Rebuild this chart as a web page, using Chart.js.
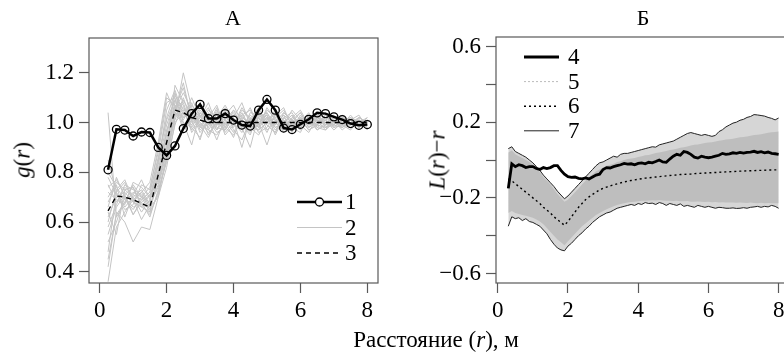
<!DOCTYPE html>
<html>
<head>
<meta charset="utf-8">
<script src="https://cdn.jsdelivr.net/npm/chart.js@4.4.1/dist/chart.umd.min.js"></script>
<style>
  html, body { margin: 0; padding: 0; background: #fff; overflow: hidden; }
  #wrap { position: relative; width: 784px; height: 357px; overflow: hidden; font-family: 'Liberation Serif', 'Times New Roman', serif; }
  canvas { position: absolute; top: 0; }
  #chart-a { left: 0; }
  #chart-b { left: 392px; }
  .lbl { position: absolute; font-size: 23px; color: #000; white-space: nowrap; line-height: 1; }
  .ttl { font-size: 22px; transform: translateX(-50%); }
  .ytl { transform: translate(-50%, -50%) rotate(-90deg); }
</style>
</head>
<body>
<div id="wrap">
  <canvas id="chart-a" width="392" height="357"></canvas>
  <canvas id="chart-b" width="400" height="357"></canvas>
  <div class="lbl ttl" style="left:233px; top:7px;">А</div>
  <div class="lbl ttl" style="left:643px; top:7px;">Б</div>
  <div class="lbl ytl" style="left:22px; top:160px;"><i>g</i>(<i>r</i>)</div>
  <div class="lbl ytl" style="left:437px; top:160px;"><i>L</i>(<i>r</i>)&minus;<i>r</i></div>
  <div class="lbl" style="left:436px; top:328px; transform: translateX(-50%);">Расстояние (<i>r</i>), м</div>
</div>
<script>
// ---- Panel A: g(r) ----
const rA = [0.25, 0.5, 0.75, 1.0, 1.25, 1.5, 1.75, 2.0, 2.25, 2.5, 2.75, 3.0, 3.25, 3.5, 3.75, 4.0,
            4.25, 4.5, 4.75, 5.0, 5.25, 5.5, 5.75, 6.0, 6.25, 6.5, 6.75, 7.0, 7.25, 7.5, 7.75, 8.0];

// 1 - observed g(r)
const gObs = [0.81, 0.973, 0.97, 0.946, 0.962, 0.96, 0.90, 0.868, 0.906, 0.976, 1.036, 1.073, 1.016, 1.016, 1.036, 1.01,
              0.99, 0.986, 1.05, 1.093, 1.05, 0.978, 0.972, 0.993, 1.013, 1.039, 1.036, 1.023, 1.012, 0.996, 0.989, 0.992];

// 3 - expected g(r)
const gExp = [0.645, 0.705, 0.70, 0.69, 0.675, 0.66, 0.79, 0.92, 1.05, 1.04, 1.02, 1.01, 1.0, 1.0, 1.0, 1.0,
              1.0, 1.0, 1.0, 1.0, 1.0, 1.0, 1.0, 1.0, 1.0, 1.0, 1.0, 1.0, 1.0, 1.0, 1.0, 1.0];

// 2 - simulations
const gSim = [
  [0.62,0.70,0.72,0.68,0.66,0.64,0.78,0.95,1.08,1.06,1.02,0.98,1.03,0.97,1.01,1.05,0.99,0.96,1.02,1.04,0.98,1.00,1.03,0.97,1.01,0.99,1.02,1.00,0.98,1.01,0.99,1.00],
  [0.75,0.68,0.74,0.71,0.69,0.72,0.85,1.02,1.12,1.00,0.91,1.04,0.99,1.06,0.96,1.00,1.03,0.98,0.95,1.01,1.04,0.99,0.97,1.02,1.00,1.03,0.98,0.99,1.02,0.98,1.00,0.99],
  [0.48,0.72,0.66,0.70,0.73,0.67,0.74,0.88,1.15,1.08,0.98,0.94,1.02,1.00,1.05,0.97,0.93,1.01,1.06,0.99,0.96,1.04,1.01,0.98,1.03,0.97,1.00,1.02,0.99,1.01,1.03,0.98],
  [0.80,0.74,0.69,0.65,0.70,0.68,0.80,0.97,1.05,1.12,1.05,1.00,0.96,0.99,1.03,1.07,1.00,0.97,0.99,1.05,1.02,0.96,1.00,1.04,0.98,1.00,1.01,0.97,1.00,1.02,0.98,1.01],
  [0.55,0.66,0.71,0.74,0.67,0.63,0.72,0.85,1.02,1.20,1.06,0.97,1.00,1.04,0.95,0.99,1.05,1.02,0.96,0.98,1.03,1.06,0.98,0.99,1.02,1.04,0.99,1.01,0.97,1.00,1.02,1.00],
  [1.04,0.62,0.68,0.72,0.70,0.74,0.88,1.08,1.10,0.98,1.03,1.08,0.97,0.95,1.00,1.04,0.98,1.03,1.00,0.91,1.01,0.99,1.05,1.01,0.97,0.99,1.03,1.00,1.01,0.98,1.00,1.02],
  [0.66,0.78,0.70,0.63,0.68,0.71,0.76,0.90,1.04,1.02,1.10,1.02,1.06,0.98,0.97,1.02,1.08,0.99,1.01,1.03,0.95,1.02,0.99,1.00,1.04,0.98,0.97,1.02,1.00,0.99,1.01,0.99],
  [0.36,0.58,0.64,0.69,0.72,0.66,0.70,0.82,1.00,1.04,0.99,1.05,1.01,0.93,1.02,1.00,0.96,1.04,1.03,1.00,0.99,1.03,0.96,1.02,1.00,1.01,1.04,0.98,0.99,1.03,0.99,1.01],
  [0.70,0.76,0.73,0.70,0.64,0.69,0.83,0.99,1.09,1.07,0.96,1.01,1.05,1.02,0.98,0.95,1.01,1.06,0.98,1.02,1.00,0.97,1.02,1.05,0.99,1.02,1.00,0.99,1.03,1.00,0.98,1.00],
  [0.58,0.67,0.75,0.73,0.71,0.65,0.79,0.93,1.06,1.14,1.02,0.99,0.94,1.01,1.06,1.00,0.99,0.95,1.04,1.01,1.03,1.00,0.98,0.96,1.03,1.00,1.02,1.01,0.98,1.00,1.01,0.97],
  [0.42,0.64,0.60,0.52,0.58,0.57,0.70,0.86,1.03,1.05,1.04,0.96,1.00,1.03,1.01,0.96,1.02,1.00,1.05,0.97,1.00,1.04,1.01,0.99,0.96,1.02,1.01,1.03,1.00,0.99,1.02,1.00],
  [0.72,0.69,0.67,0.76,0.74,0.70,0.84,1.05,1.13,1.03,1.07,1.03,0.98,1.05,0.99,1.02,0.97,1.01,0.98,1.06,1.01,0.98,1.02,1.00,1.01,0.97,0.99,1.00,1.02,1.01,0.99,1.01],
  [0.60,0.73,0.77,0.69,0.61,0.67,0.75,0.89,1.01,1.10,1.00,1.06,1.03,0.97,1.04,0.98,1.04,0.98,0.97,1.00,1.05,1.01,0.97,1.03,0.98,1.01,1.00,0.98,1.01,1.02,1.00,0.98],
  [0.78,0.71,0.65,0.67,0.75,0.73,0.90,1.10,1.07,0.97,1.01,0.93,1.04,1.00,0.97,1.03,1.01,0.97,1.02,0.99,0.96,1.02,1.04,0.98,1.02,0.99,0.98,1.01,1.00,0.98,1.02,1.00],
  [0.52,0.60,0.70,0.66,0.68,0.62,0.73,0.84,0.99,1.09,1.03,1.00,0.97,1.02,1.07,1.01,0.90,1.02,1.00,1.03,0.98,1.00,1.03,0.99,1.00,1.04,0.98,1.00,0.99,1.01,0.98,1.02],
  [0.68,0.75,0.62,0.71,0.77,0.69,0.81,0.96,1.11,1.05,0.97,1.02,1.08,0.99,1.00,0.94,1.03,1.05,0.99,1.02,1.01,0.97,1.00,1.02,0.97,0.99,1.02,1.01,0.99,0.97,1.01,1.00],
  [0.64,0.55,0.73,0.74,0.66,0.71,0.77,0.91,1.07,1.01,1.08,0.98,0.99,1.04,1.02,1.01,0.98,0.90,1.03,1.00,1.02,1.05,0.99,1.01,1.03,0.98,1.01,0.99,1.02,1.00,0.99,1.01],
  [0.85,0.72,0.76,0.68,0.72,0.76,0.92,1.12,1.04,1.00,0.98,1.04,1.01,0.96,0.98,1.05,1.02,1.00,0.97,1.04,0.99,1.03,1.00,0.97,1.01,1.02,0.99,1.03,1.00,1.01,1.00,0.99],
  [0.45,0.63,0.68,0.75,0.70,0.64,0.71,0.87,1.05,1.16,1.01,1.03,0.95,1.01,1.03,0.99,1.06,1.01,1.02,0.96,1.03,0.98,1.01,1.04,0.99,1.00,1.03,0.99,0.98,1.02,1.00,0.99],
  [0.74,0.77,0.71,0.63,0.69,0.72,0.86,1.01,1.09,1.02,1.04,0.99,1.02,1.07,0.98,1.03,1.00,0.99,1.04,1.02,0.97,1.01,0.98,1.00,1.02,1.01,0.97,1.00,1.03,0.99,1.01,1.00]
];

const ticksAx = [0, 2, 4, 6, 8];
const ticksAy = [0.4, 0.6, 0.8, 1.0, 1.2];

// ---- Panel B: L(r)-r ----
const rB = [0.3,0.4,0.5,0.6,0.7,0.8,0.9,1.0,1.1,1.2,
            1.3,1.4,1.5,1.6,1.7,1.8,1.9,2.0,2.1,2.2,
            2.3,2.4,2.5,2.6,2.7,2.8,2.9,3.0,3.1,3.2,
            3.3,3.4,3.5,3.6,3.7,3.8,3.9,4.0,4.1,4.2,
            4.3,4.4,4.5,4.6,4.7,4.8,4.9,5.0,5.1,5.2,
            5.3,5.4,5.5,5.6,5.7,5.8,5.9,6.0,6.1,6.2,
            6.3,6.4,6.5,6.6,6.7,6.8,6.9,7.0,7.1,7.2,
            7.3,7.4,7.5,7.6,7.7,7.8,7.9,8.0];

// 4 - observed
const lObs = [-0.15,-0.02,-0.035,-0.025,-0.03,-0.04,-0.035,-0.035,-0.045,-0.05,
              -0.04,-0.045,-0.04,-0.03,-0.03,-0.055,-0.075,-0.088,-0.092,-0.09,
              -0.097,-0.1,-0.095,-0.1,-0.09,-0.08,-0.075,-0.05,-0.04,-0.042,
              -0.035,-0.03,-0.025,-0.018,-0.022,-0.02,-0.025,-0.018,-0.015,-0.02,
              -0.012,-0.015,-0.008,0.0,-0.01,-0.012,0.005,0.02,0.03,0.025,
              0.045,0.04,0.03,0.015,0.01,0.02,0.015,0.012,0.015,0.02,
              0.025,0.035,0.03,0.032,0.038,0.035,0.04,0.036,0.04,0.042,
              0.046,0.04,0.044,0.038,0.042,0.035,0.033,0.03];

// 5 - simulations (dense band edges)
const lSimHi = [0.04,0.05,0.03,0.02,0.01,0.0,-0.01,-0.025,-0.045,-0.065,
                -0.09,-0.11,-0.13,-0.155,-0.18,-0.2,-0.22,-0.21,-0.19,-0.17,
                -0.15,-0.13,-0.11,-0.09,-0.075,-0.06,-0.05,-0.04,-0.03,-0.025,
                -0.02,-0.01,-0.006,0.0,0.005,0.008,0.01,0.016,0.02,0.025,
                0.027,0.032,0.037,0.04,0.043,0.048,0.053,0.056,0.06,0.065,
                0.067,0.072,0.077,0.08,0.082,0.086,0.09,0.092,0.094,0.098,
                0.102,0.104,0.108,0.11,0.112,0.116,0.12,0.122,0.124,0.128,
                0.132,0.134,0.136,0.14,0.144,0.146,0.148,0.15];
const lSimLo = [-0.28,-0.27,-0.28,-0.285,-0.29,-0.295,-0.3,-0.305,-0.315,-0.325,
                -0.34,-0.36,-0.38,-0.4,-0.42,-0.435,-0.45,-0.43,-0.41,-0.39,
                -0.37,-0.35,-0.335,-0.32,-0.305,-0.29,-0.28,-0.27,-0.26,-0.252,
                -0.245,-0.238,-0.232,-0.228,-0.224,-0.222,-0.22,-0.218,-0.216,-0.215,
                -0.214,-0.213,-0.214,-0.212,-0.214,-0.216,-0.215,-0.217,-0.216,-0.218,
                -0.218,-0.217,-0.22,-0.221,-0.219,-0.221,-0.222,-0.221,-0.223,-0.222,
                -0.224,-0.223,-0.225,-0.224,-0.225,-0.226,-0.224,-0.226,-0.227,-0.225,
                -0.227,-0.228,-0.226,-0.228,-0.227,-0.229,-0.228,-0.228];

// 6 - expected
const lExp = [-0.1,-0.11,-0.125,-0.14,-0.155,-0.17,-0.185,-0.2,-0.215,-0.23,
              -0.25,-0.265,-0.28,-0.3,-0.315,-0.33,-0.345,-0.325,-0.3,-0.275,
              -0.25,-0.23,-0.21,-0.195,-0.182,-0.17,-0.158,-0.15,-0.143,-0.137,
              -0.131,-0.126,-0.121,-0.116,-0.112,-0.108,-0.105,-0.102,-0.099,-0.096,
              -0.094,-0.092,-0.09,-0.088,-0.086,-0.084,-0.082,-0.08,-0.079,-0.077,
              -0.076,-0.075,-0.074,-0.072,-0.071,-0.07,-0.069,-0.068,-0.067,-0.066,
              -0.065,-0.064,-0.063,-0.062,-0.061,-0.06,-0.059,-0.058,-0.057,-0.057,
              -0.056,-0.055,-0.055,-0.054,-0.053,-0.053,-0.052,-0.052];

// 7 - envelope
const lEnvHi = [0.06,0.07,0.045,0.035,0.025,0.015,0.0,-0.015,-0.035,-0.055,
                -0.08,-0.1,-0.12,-0.14,-0.165,-0.185,-0.205,-0.19,-0.17,-0.15,
                -0.13,-0.11,-0.09,-0.07,-0.05,-0.03,-0.015,-0.01,0.0,0.01,
                0.02,0.015,0.03,0.035,0.035,0.04,0.045,0.05,0.055,0.06,
                0.065,0.07,0.068,0.08,0.085,0.09,0.095,0.1,0.11,0.12,
                0.13,0.14,0.145,0.14,0.135,0.13,0.135,0.13,0.125,0.13,
                0.15,0.16,0.175,0.185,0.195,0.2,0.21,0.215,0.225,0.23,
                0.24,0.238,0.235,0.232,0.225,0.22,0.212,0.222];
const lEnvLo = [-0.35,-0.3,-0.31,-0.305,-0.32,-0.31,-0.325,-0.33,-0.34,-0.35,
                -0.37,-0.39,-0.42,-0.445,-0.465,-0.475,-0.48,-0.455,-0.44,-0.42,
                -0.4,-0.385,-0.365,-0.35,-0.33,-0.315,-0.3,-0.29,-0.28,-0.275,
                -0.265,-0.255,-0.25,-0.245,-0.24,-0.235,-0.24,-0.23,-0.235,-0.225,
                -0.23,-0.228,-0.235,-0.225,-0.23,-0.24,-0.23,-0.235,-0.24,-0.232,
                -0.245,-0.24,-0.245,-0.25,-0.24,-0.245,-0.25,-0.245,-0.25,-0.255,
                -0.25,-0.252,-0.255,-0.255,-0.253,-0.256,-0.255,-0.252,-0.255,-0.25,
                -0.248,-0.245,-0.25,-0.245,-0.248,-0.24,-0.245,-0.255];

const ticksBx = [0, 2, 4, 6, 8];
const ticksBy = [-0.6, -0.4, -0.2, 0, 0.2, 0.4, 0.6];
const labelsBy = ['\u22120.6', '', '\u22120.2', '', '0.2', '', '0.6'];

const serif = "'Liberation Serif', 'Times New Roman', serif";
const axisGrey = '#595959';

const pts = (xs, ys) => xs.map((x, i) => ({ x: x, y: ys[i] }));

// box round the plot region, like R's box()
const framePlugin = {
  id: 'frame',
  afterDatasetsDraw(chart) {
    const { ctx, chartArea: a } = chart;
    ctx.save();
    ctx.strokeStyle = axisGrey;
    ctx.lineWidth = 1.2;
    ctx.strokeRect(a.left, a.top, a.right - a.left, a.bottom - a.top);
    ctx.restore();
  }
};

// R-style legend drawn inside the plot region
const rLegendPlugin = {
  id: 'rLegend',
  afterDraw(chart, args, opts) {
    if (!opts.items) return;
    const { ctx, chartArea: a } = chart;
    ctx.save();
    ctx.font = '23px ' + serif;
    ctx.textBaseline = 'middle';
    ctx.fillStyle = '#000';
    opts.items.forEach((it, i) => {
      const y = a.top + opts.y + i * opts.rowH;
      const x0 = a.left + opts.x;
      const x1 = x0 + opts.sampleW;
      ctx.beginPath();
      ctx.strokeStyle = it.color;
      ctx.lineWidth = it.width;
      ctx.setLineDash(it.dash || []);
      ctx.moveTo(x0, y);
      ctx.lineTo(x1, y);
      ctx.stroke();
      ctx.setLineDash([]);
      if (it.point) {
        ctx.beginPath();
        ctx.lineWidth = 1.3;
        ctx.fillStyle = '#fff';
        ctx.arc((x0 + x1) / 2, y, 4, 0, Math.PI * 2);
        ctx.fill();
        ctx.stroke();
        ctx.fillStyle = '#000';
      }
      ctx.fillText(it.label, x1 + opts.gap, y + 1);
    });
    ctx.restore();
  }
};

function axisX(min, max, ticks, height) {
  return {
    type: 'linear', min: min, max: max,
    afterBuildTicks: s => { s.ticks = ticks.map(v => ({ value: v })); },
    afterFit: s => { s.height = height; },
    ticks: { color: '#000', font: { family: serif, size: 23 }, padding: 4, autoSkip: false, maxRotation: 0,
             callback: v => String(v) },
    grid: { drawOnChartArea: false, drawTicks: true, tickLength: 10, tickColor: axisGrey, tickWidth: 1.2 },
    border: { display: false }
  };
}

function axisY(min, max, ticks, width, fmt) {
  return {
    type: 'linear', min: min, max: max,
    afterBuildTicks: s => { s.ticks = ticks.map(v => ({ value: v })); },
    afterFit: s => { s.width = width; },
    ticks: { color: '#000', font: { family: serif, size: 23 }, padding: 5, autoSkip: false, callback: fmt },
    grid: { drawOnChartArea: false, drawTicks: true, tickLength: 10, tickColor: axisGrey, tickWidth: 1.2 },
    border: { display: false }
  };
}

function initPanelA() {
  const simSets = gSim.map(s => ({
    data: pts(rA, s), borderColor: '#c4c4c4', borderWidth: 1, pointRadius: 0, fill: false
  }));
  new Chart(document.getElementById('chart-a'), {
    type: 'line',
    data: {
      datasets: [
        { data: pts(rA, gObs), borderColor: '#000', borderWidth: 2.5, pointRadius: 4, pointBorderWidth: 1.3,
          pointBorderColor: '#000', pointBackgroundColor: 'rgba(0,0,0,0)', fill: false },
        { data: pts(rA, gExp), borderColor: '#000', borderWidth: 1.4, borderDash: [5, 4], pointRadius: 0, fill: false }
      ].concat(simSets)
    },
    options: {
      responsive: false, animation: false, devicePixelRatio: 1,
      layout: { padding: { top: 38, right: 14, left: 0, bottom: 0 } },
      plugins: {
        legend: { display: false }, tooltip: { enabled: false },
        rLegend: {
          x: 208, y: 164, rowH: 25.5, sampleW: 45, gap: 3,
          items: [
            { label: '1', color: '#000', width: 2.5, point: true },
            { label: '2', color: '#c4c4c4', width: 1.2 },
            { label: '3', color: '#000', width: 1.4, dash: [5, 4] }
          ]
        }
      },
      scales: {
        x: axisX(-0.32, 8.32, ticksAx, 74),
        y: axisY(0.355, 1.34, ticksAy, 89, v => v.toFixed(1))
      }
    },
    plugins: [framePlugin, rLegendPlugin]
  });
}

function initPanelB() {
  new Chart(document.getElementById('chart-b'), {
    type: 'line',
    data: {
      datasets: [
        { data: pts(rB, lObs), borderColor: '#000', borderWidth: 2.8, pointRadius: 0, fill: false },
        { data: pts(rB, lEnvHi), borderColor: '#222', borderWidth: 1, pointRadius: 0, fill: false },
        { data: pts(rB, lEnvLo), borderColor: '#222', borderWidth: 1, pointRadius: 0, fill: false },
        { data: pts(rB, lExp), borderColor: '#000', borderWidth: 1.4, borderDash: [2, 3], pointRadius: 0, fill: false },
        { data: pts(rB, lSimHi), borderColor: 'rgba(0,0,0,0)', borderWidth: 0, pointRadius: 0,
          fill: { target: 5 }, backgroundColor: '#bebebe' },
        { data: pts(rB, lSimLo), borderColor: 'rgba(0,0,0,0)', borderWidth: 0, pointRadius: 0, fill: false },
        { data: pts(rB, lEnvHi), borderColor: 'rgba(0,0,0,0)', borderWidth: 0, pointRadius: 0,
          fill: { target: 2 }, backgroundColor: '#d6d6d6' }
      ]
    },
    options: {
      responsive: false, animation: false, devicePixelRatio: 1,
      layout: { padding: { top: 37, right: 6, left: 0, bottom: 0 } },
      plugins: {
        legend: { display: false }, tooltip: { enabled: false },
        rLegend: {
          x: 28, y: 20, rowH: 24.6, sampleW: 35, gap: 9,
          items: [
            { label: '4', color: '#000', width: 3 },
            { label: '5', color: '#bbbbbb', width: 1, dash: [2, 2] },
            { label: '6', color: '#000', width: 1.4, dash: [2, 3] },
            { label: '7', color: '#222', width: 1 }
          ]
        }
      },
      scales: {
        x: axisX(-0.05, 8.21, ticksBx, 74),
        y: axisY(-0.65, 0.65, ticksBy, 104, (v, i) => labelsBy[i])
      }
    },
    plugins: [framePlugin, rLegendPlugin]
  });
}

document.addEventListener('DOMContentLoaded', () => {
  initPanelA();
  initPanelB();
});
</script>
</body>
</html>
